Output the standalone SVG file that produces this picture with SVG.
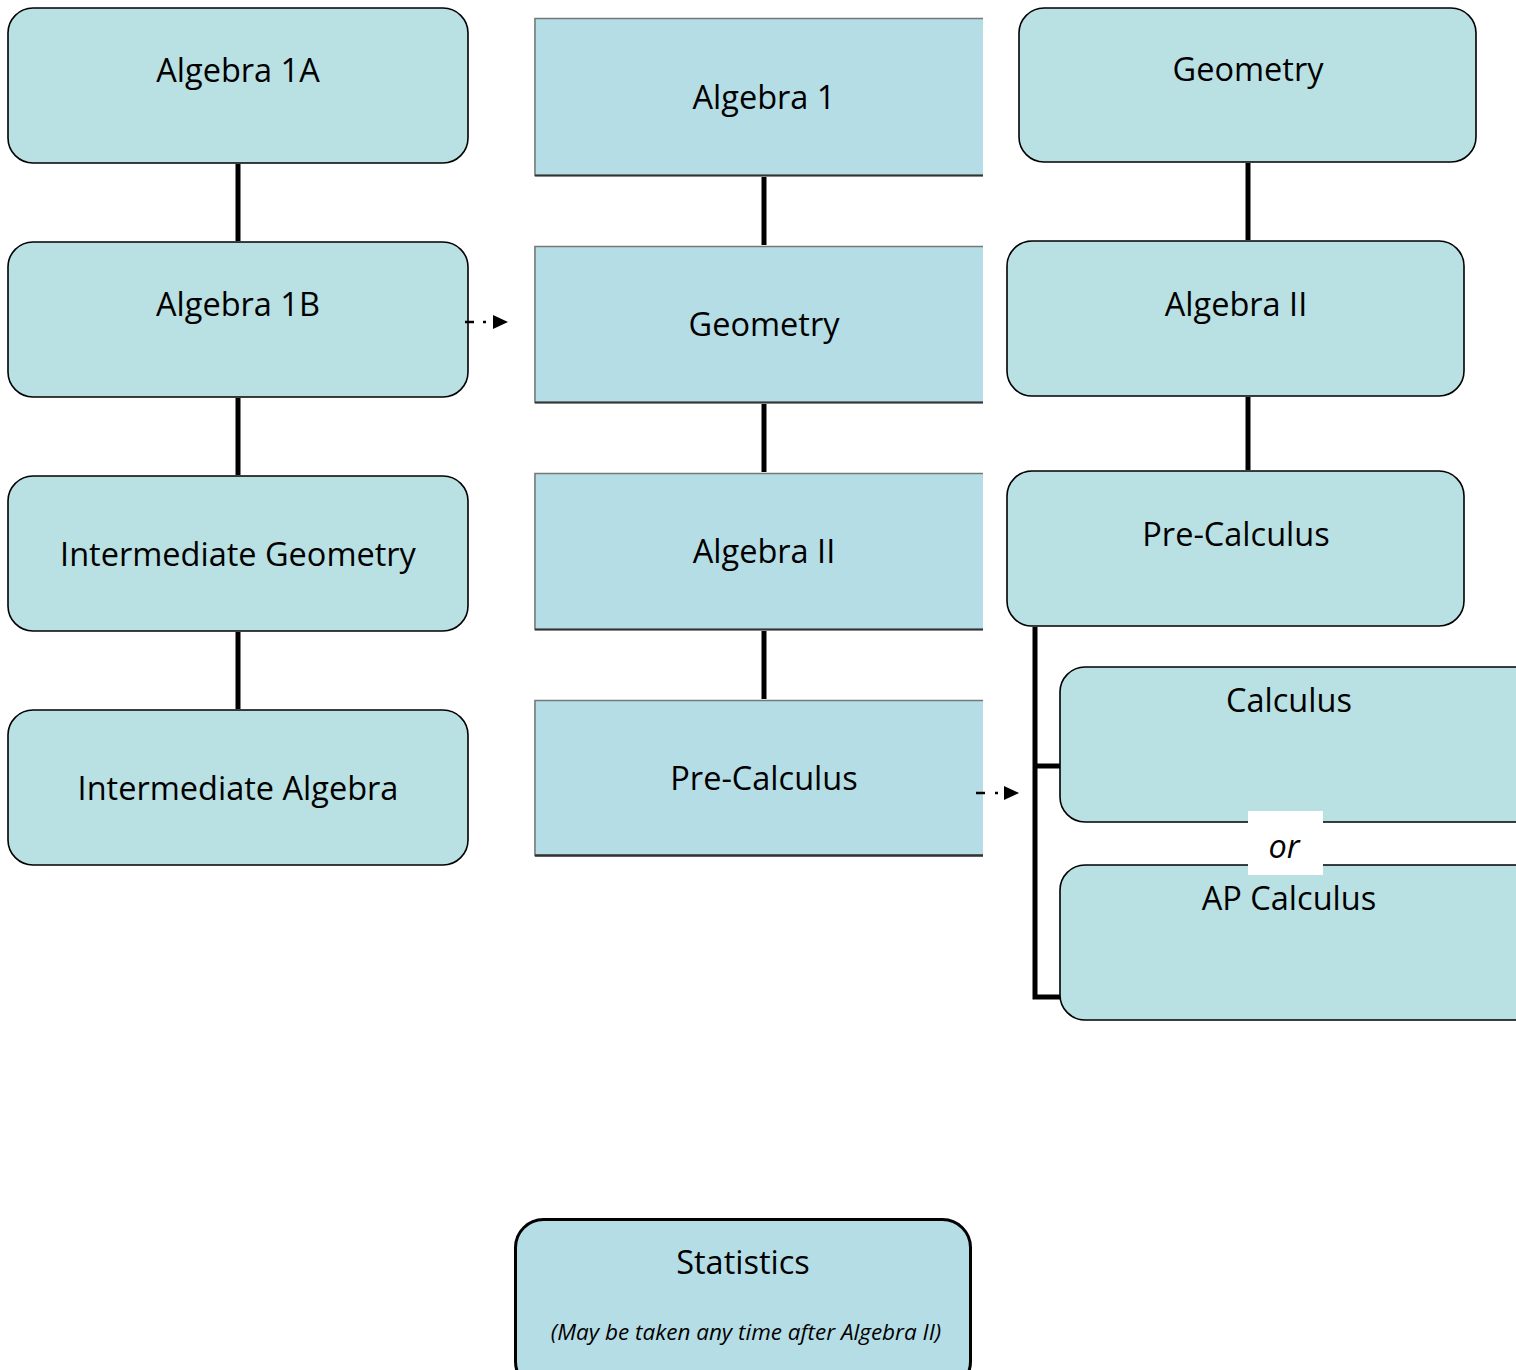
<svg xmlns="http://www.w3.org/2000/svg" width="1516" height="1370" viewBox="0 0 1516 1370">
<style>
.rb{fill:#b9e0e3;stroke:#000;stroke-width:1.6}
.mb{fill:#b5dde6}
.t{font-family:"Open Sans","Noto Sans",sans-serif;font-size:32.5px;fill:#000;text-anchor:middle}
.s{font-size:22.5px;font-style:italic}
.c{stroke:#000;stroke-width:5;fill:none}
.dd{stroke:#000;stroke-width:2.5}
</style>
<g id="n-alg1a"><rect class="rb" x="8" y="8" width="460" height="155" rx="25"/><text class="t" x="238" y="82">Algebra 1A</text></g>
<g id="n-alg1b"><rect class="rb" x="8" y="242" width="460" height="155" rx="25"/><text class="t" x="238" y="316">Algebra 1B</text></g>
<g id="n-intgeo"><rect class="rb" x="8" y="476" width="460" height="155" rx="25"/><text class="t" x="238" y="566">Intermediate Geometry</text></g>
<g id="n-intalg"><rect class="rb" x="8" y="710" width="460" height="155" rx="25"/><text class="t" x="238" y="800">Intermediate Algebra</text></g>

<g id="n-m-alg1"><rect class="mb" x="534" y="18" width="449" height="158"/><path d="M983,18.5 H535 V175.5 H983" fill="none" stroke="#777" stroke-width="1.5"/><line x1="535" y1="175.5" x2="983" y2="175.5" stroke="#333" stroke-width="2"/><text class="t" x="764" y="109">Algebra 1</text></g>
<g id="n-m-geo"><rect class="mb" x="534" y="246" width="449" height="157"/><path d="M983,246.5 H535 V402.5 H983" fill="none" stroke="#777" stroke-width="1.5"/><line x1="535" y1="402.5" x2="983" y2="402.5" stroke="#333" stroke-width="2"/><text class="t" x="764" y="336">Geometry</text></g>
<g id="n-m-alg2"><rect class="mb" x="534" y="473" width="449" height="157"/><path d="M983,473.5 H535 V629.5 H983" fill="none" stroke="#777" stroke-width="1.5"/><line x1="535" y1="629.5" x2="983" y2="629.5" stroke="#333" stroke-width="2"/><text class="t" x="764" y="563">Algebra II</text></g>
<g id="n-m-precalc"><rect class="mb" x="534" y="700" width="449" height="156"/><path d="M983,700.5 H535 V855.5 H983" fill="none" stroke="#777" stroke-width="1.5"/><line x1="535" y1="855.5" x2="983" y2="855.5" stroke="#333" stroke-width="2.5"/><text class="t" x="764" y="790">Pre-Calculus</text></g>

<g id="n-r-geo"><rect class="rb" x="1019" y="8" width="457" height="154" rx="25"/><text class="t" x="1248" y="81">Geometry</text></g>
<g id="n-r-alg2"><rect class="rb" x="1007" y="241" width="457" height="155" rx="25"/><text class="t" x="1236" y="316">Algebra II</text></g>
<g id="n-r-precalc"><rect class="rb" x="1007" y="471" width="457" height="155" rx="25"/><text class="t" x="1236" y="546">Pre-Calculus</text></g>
<g id="n-calc"><rect class="rb" x="1060" y="667" width="480" height="155" rx="25"/><text class="t" x="1289" y="712">Calculus</text></g>
<g id="n-apcalc"><rect class="rb" x="1060" y="865" width="480" height="155" rx="25"/><text class="t" x="1289" y="910">AP Calculus</text></g>
<g id="n-or"><rect x="1248" y="811" width="75" height="64" fill="#fff"/><text class="t" x="1284" y="858" font-style="italic">or</text></g>

<g id="n-stats"><rect x="515.5" y="1219.5" width="455" height="170" rx="28" fill="#b5dde6" stroke="#000" stroke-width="3"/><text class="t" x="743" y="1274">Statistics</text><text class="t s" x="746" y="1340">(May be taken any time after Algebra II)</text></g>

<g id="connectors">
<line class="c" x1="238" y1="164" x2="238" y2="241"/>
<line class="c" x1="238" y1="398" x2="238" y2="475"/>
<line class="c" x1="238" y1="632" x2="238" y2="709"/>
<line class="c" x1="764" y1="177" x2="764" y2="245"/>
<line class="c" x1="764" y1="404" x2="764" y2="472"/>
<line class="c" x1="764" y1="631" x2="764" y2="699"/>
<line class="c" x1="1248" y1="163" x2="1248" y2="240"/>
<line class="c" x1="1248" y1="397" x2="1248" y2="470"/>
<polyline class="c" points="1035,627 1035,997 1060,997"/>
<line class="c" x1="1035" y1="766" x2="1060" y2="766"/>
<line class="dd" x1="465" y1="322" x2="474" y2="322"/>
<line class="dd" x1="483" y1="322" x2="486" y2="322"/>
<path d="M493,315 L508,322 L493,329 Z" fill="#000"/>
<line class="dd" x1="976" y1="793" x2="985" y2="793"/>
<line class="dd" x1="995" y1="793" x2="998" y2="793"/>
<path d="M1004,786 L1019,793 L1004,800 Z" fill="#000"/>
</g>
</svg>
